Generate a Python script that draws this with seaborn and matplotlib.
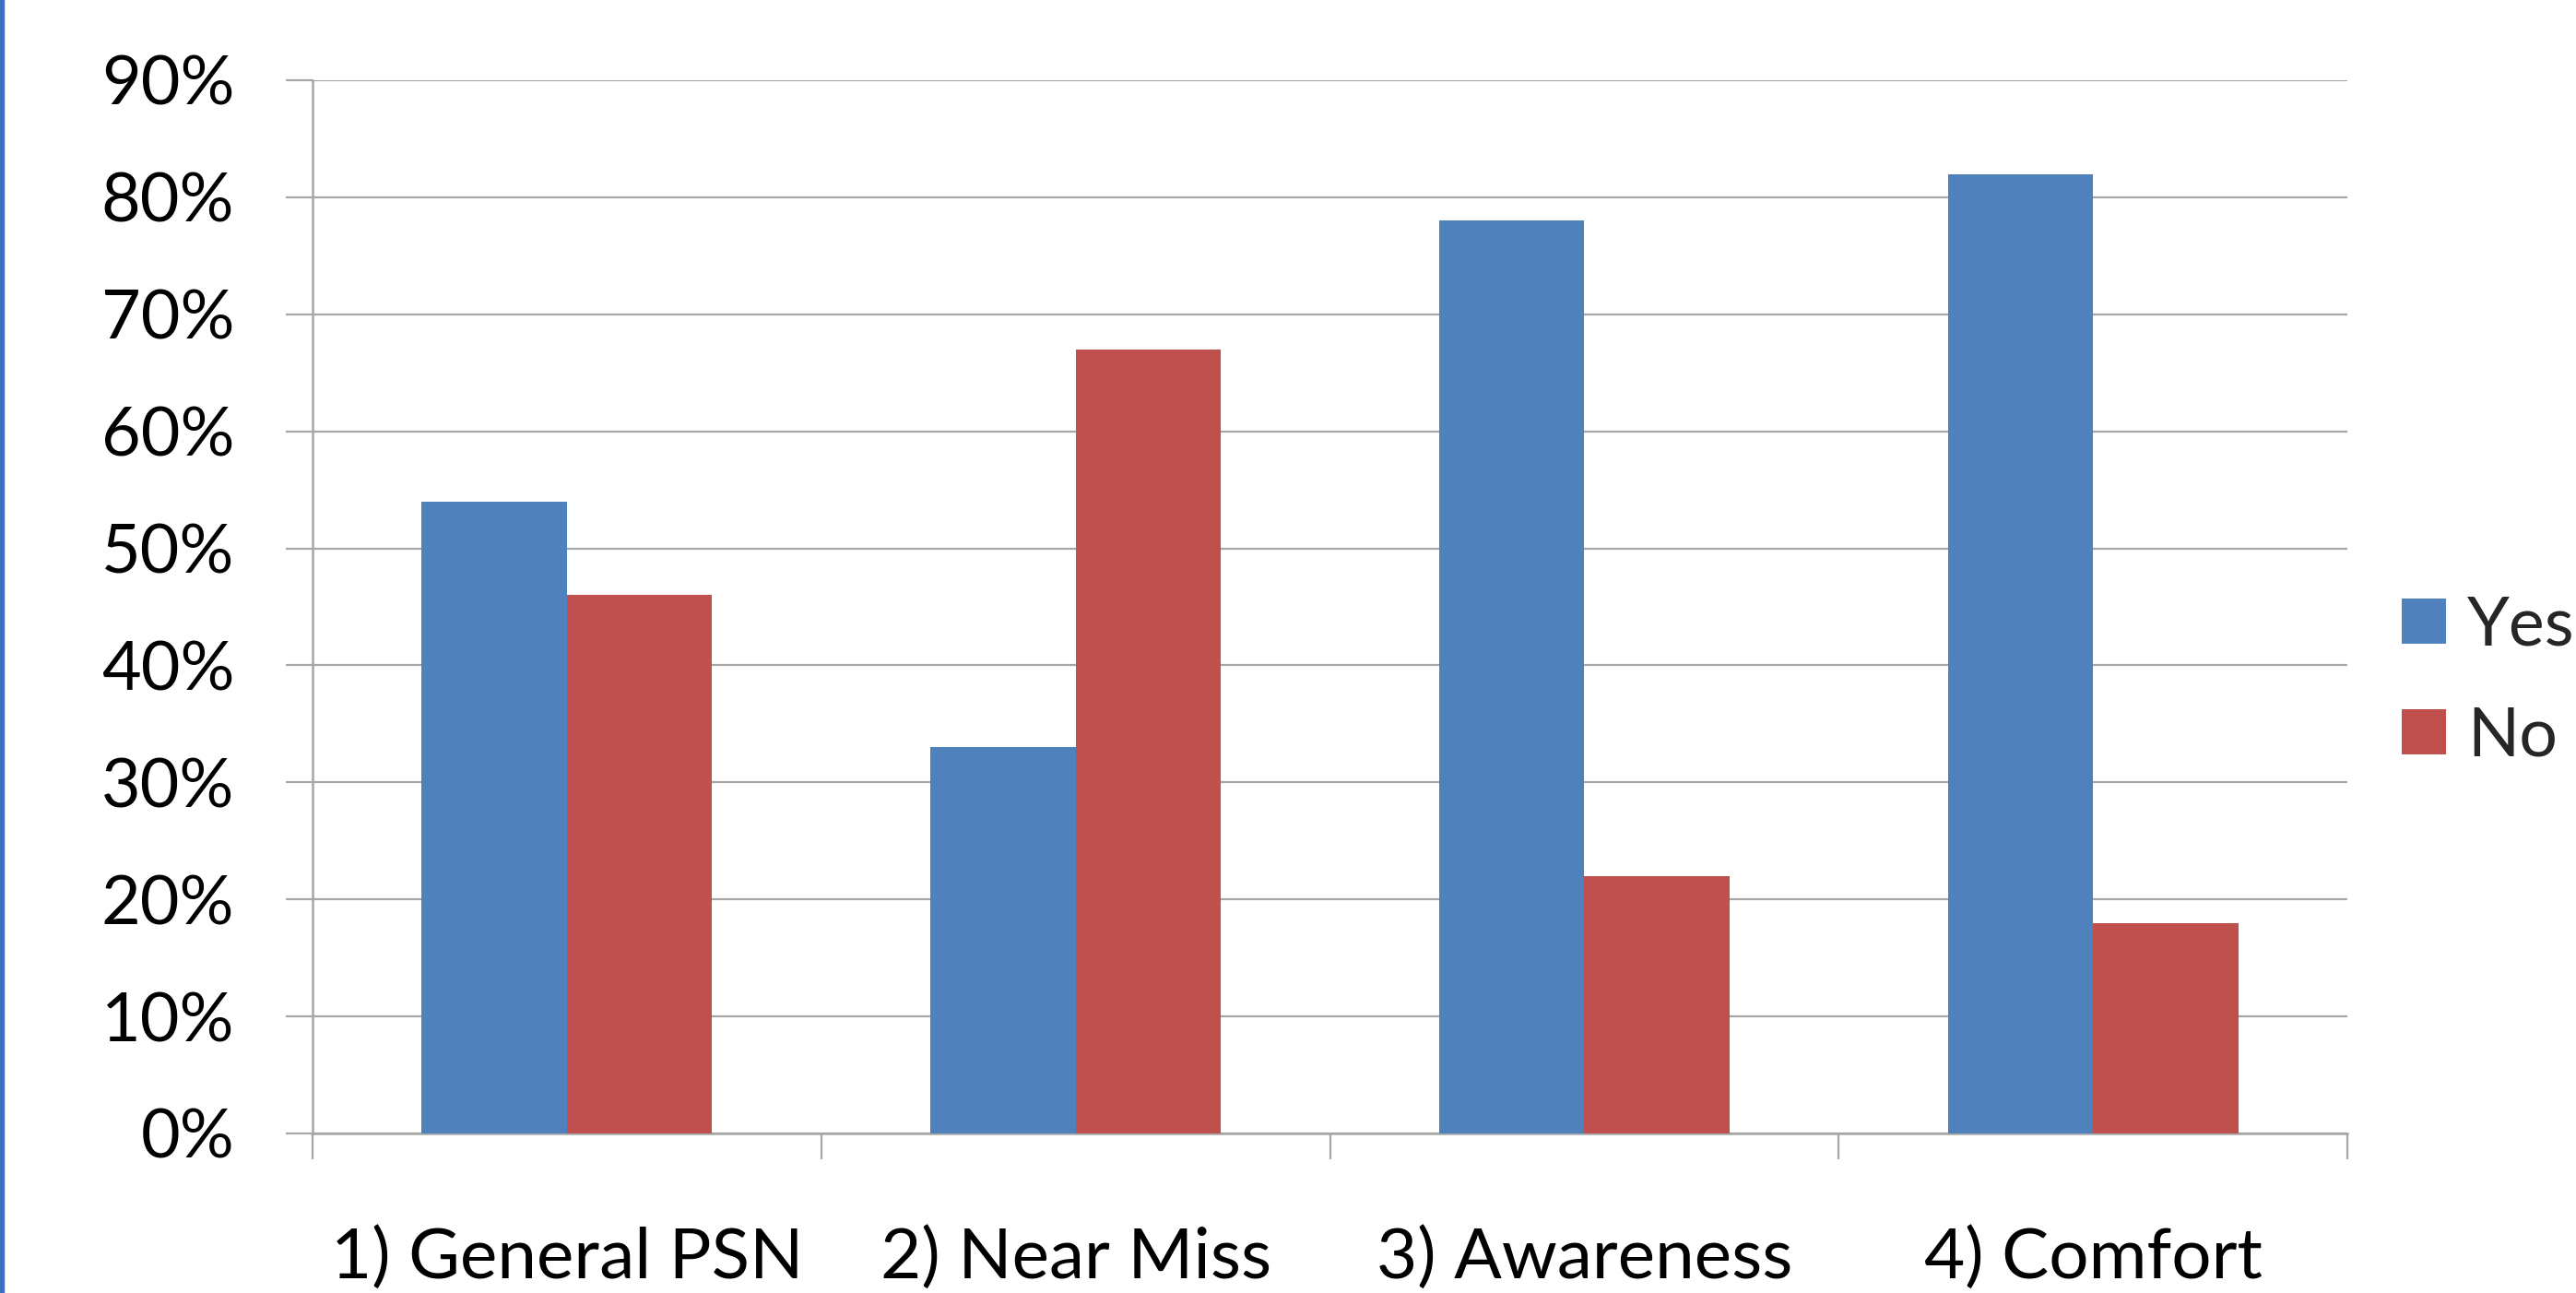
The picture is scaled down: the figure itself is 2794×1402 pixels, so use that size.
import matplotlib
matplotlib.use("Agg")
import matplotlib.pyplot as plt
import seaborn as sns
import pandas as pd
from matplotlib.patches import Patch, Rectangle
from matplotlib.ticker import FuncFormatter, FixedLocator

categories = ["1) General PSN", "2) Near Miss", "3) Awareness", "4) Comfort"]
series_names = ["Yes", "No"]
yes_values = [0.54, 0.33, 0.78, 0.82]
no_values = [0.46, 0.67, 0.22, 0.18]
y_ticks = [0.0, 0.1, 0.2, 0.3, 0.4, 0.5, 0.6, 0.7, 0.8, 0.9]
colors = ["#4F81BD", "#C0504D"]

df = pd.DataFrame({
    "Category": categories * 2,
    "Answer": [series_names[0]] * len(categories) + [series_names[1]] * len(categories),
    "Value": yes_values + no_values,
})

sns.set_theme(style="white")
plt.rcParams["font.family"] = ["Lato", "DejaVu Sans"]

W, H = 2794, 1402
fig = plt.figure(figsize=(W / 100, H / 100), dpi=100)
ax = fig.add_axes([339 / W, 1 - 1229 / H, (2546 - 339) / W, (1229 - 87) / H])

sns.barplot(data=df, x="Category", y="Value", hue="Answer", order=categories,
            hue_order=series_names, palette=colors, width=0.571,
            saturation=1, linewidth=0, ax=ax, legend=False, zorder=3)

grid_c = "#A6A6A6"
ax.set_xlim(-0.5, len(categories) - 0.5)
ax.set_ylim(0, 0.9)
ax.set_yticks(y_ticks)
ax.yaxis.set_major_formatter(FuncFormatter(lambda v, p: f"{v*100:.0f}%"))
ax.yaxis.grid(True, color=grid_c, linewidth=1.6, zorder=0)
ax.set_axisbelow(True)
ax.set_xlabel("")
ax.set_ylabel("")

for s in ["top", "right"]:
    ax.spines[s].set_visible(False)
for s in ["left", "bottom"]:
    ax.spines[s].set_color(grid_c)
    ax.spines[s].set_linewidth(1.8)

fs = 53
ax.tick_params(axis="y", which="major", length=21, width=1.6, color=grid_c,
               direction="out", pad=40, labelsize=fs, labelcolor="black", left=True)
ax.tick_params(axis="x", which="major", length=0, pad=72, labelsize=55, labelcolor="black")
ax.xaxis.set_minor_locator(FixedLocator([i - 0.5 for i in range(len(categories) + 1)]))
ax.tick_params(axis="x", which="minor", length=20, width=1.6, color=grid_c,
               direction="out", bottom=True)

handles = [Patch(facecolor=c, edgecolor="none") for c in colors]
fs_px = fs * 100 / 72
leg_kw = dict(loc="upper left", frameon=False, fontsize=fs,
              handlelength=48 / fs_px, handleheight=47 / fs_px,
              handletextpad=23 / fs_px, borderpad=0, borderaxespad=0)
spacing = 0.45
anchor = [2605 / W, 1 - 630 / H]
leg = fig.legend(handles, series_names, bbox_to_anchor=tuple(anchor),
                 labelspacing=spacing, **leg_kw)

# Fine-tune legend placement so the swatches land where the reference has them
for _ in range(3):
    fig.canvas.draw()
    r = fig.canvas.get_renderer()
    b0 = leg.legend_handles[0].get_window_extent(r)
    b1 = leg.legend_handles[1].get_window_extent(r)
    pitch = b0.y0 - b1.y0
    spacing += (120 - pitch) / fs_px
    dx = 2605 - b0.x0
    dy = (H - 649) - b0.y1
    anchor[0] += dx / W
    anchor[1] += dy / H
    leg.remove()
    leg = fig.legend(handles, series_names, bbox_to_anchor=tuple(anchor),
                     labelspacing=spacing, **leg_kw)

fig.add_artist(Rectangle((0, 0), 4 / W, 1, transform=fig.transFigure,
                         color="#3E6FC0", zorder=10))

fig.savefig("out.png", dpi=100, facecolor="white")
